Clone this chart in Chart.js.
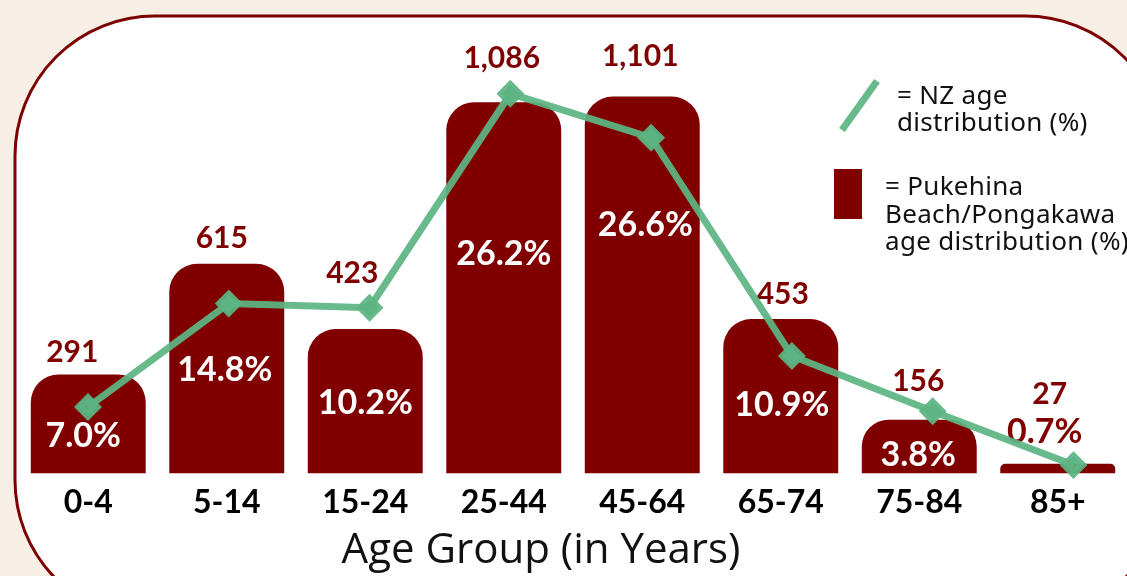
<!DOCTYPE html>
<html>
<head>
<meta charset="utf-8">
<script src="https://cdn.jsdelivr.net/npm/chart.js@4"></script>
<style>
  body { margin: 0; background: #f7efe6; }
  #wrap { width: 1127px; height: 576px; }
</style>
</head>
<body>
<div id="wrap"><canvas id="ageChart" width="1127" height="576"></canvas></div>
<script>
const ageGroups = ['0-4', '5-14', '15-24', '25-44', '45-64', '65-74', '75-84', '85+'];
const localCounts = [291, 615, 423, 1086, 1101, 453, 156, 27];
const localShare = [7.0, 14.8, 10.2, 26.2, 26.6, 10.9, 3.8, 0.7];
const nzShare = [4.7, 12.0, 11.7, 26.8, 23.7, 8.3, 4.4, 0.6];
const xTitle = 'Age Group (in Years)';

const darkRed = '#800000';
const green = 'rgba(92, 181, 131, 0.93)';

const age_chart = document.getElementById('ageChart');

// cream page + rounded white card
const framePlugin = {
  id: 'frame',
  beforeDraw(chart) {
    const ctx = chart.ctx;
    ctx.save();
    ctx.fillStyle = '#f7efe6';
    ctx.fillRect(0, 0, chart.width, chart.height);
    ctx.beginPath();
    ctx.roundRect(15, 16, 1150, 604, 140);
    ctx.fillStyle = '#ffffff';
    ctx.fill();
    ctx.lineWidth = 3;
    ctx.strokeStyle = '#7d0000';
    ctx.stroke();
    ctx.restore();
  }
};

// counts above bars, shares inside bars (offsets from bar top)
const countDx = [-16, -5, -13, -2, -2, 2, -1, -8];
const countDy = [-22, -25, -56, -44, -40, -25, -38, -69];
const shareDx = [-5, -2, 0, 0, 3, 1, -1, -13];
const shareDy = [62, 106, 74, 152, 128, 86, 35, -32];

const labelPlugin = {
  id: 'barLabels',
  afterDatasetDraw(chart, args) {
    if (args.index !== 0) return;
    const ctx = chart.ctx;
    ctx.save();
    ctx.textAlign = 'center';
    ctx.textBaseline = 'middle';
    args.meta.data.forEach((bar, i) => {
      ctx.font = 'bold 30px Lato';
      ctx.fillStyle = darkRed;
      ctx.fillText(localCounts[i].toLocaleString('en-US'), bar.x + countDx[i], bar.y + countDy[i]);
      ctx.font = 'bold 34px Lato';
      ctx.fillStyle = shareDy[i] < 0 ? darkRed : '#ffffff';
      ctx.fillText(localShare[i].toFixed(1) + '%', bar.x + shareDx[i], bar.y + shareDy[i]);
    });
    ctx.restore();
  }
};

// legend on the right and the axis title (sits left of the plot centre)
const legendPlugin = {
  id: 'sideLegend',
  afterDraw(chart) {
    const ctx = chart.ctx;
    ctx.save();
    ctx.strokeStyle = green;
    ctx.lineWidth = 7;
    ctx.beginPath();
    ctx.moveTo(842, 130);
    ctx.lineTo(877, 81);
    ctx.stroke();
    ctx.fillStyle = darkRed;
    ctx.fillRect(834, 169, 28, 50);
    ctx.fillStyle = '#111111';
    ctx.font = '26px "Noto Sans"';
    ctx.letterSpacing = '0.3px';
    ctx.textBaseline = 'middle';
    ctx.textAlign = 'left';
    ctx.fillText('= NZ age', 897, 97);
    ctx.fillText('distribution (%)', 897, 124);
    ctx.fillText('= Pukehina', 885, 188);
    ctx.fillText('Beach/Pongakawa', 885, 216);
    ctx.fillText('age distribution (%)', 885, 243);

    ctx.letterSpacing = '0px';
    ctx.font = '42px "Open Sans"';
    ctx.textAlign = 'center';
    ctx.fillText(xTitle, 541, 551);
    ctx.restore();
  }
};

new Chart(age_chart, {
  type: 'bar',
  data: {
    labels: ageGroups,
    datasets: [
      {
        type: 'bar',
        label: 'Pukehina Beach/Pongakawa age distribution (%)',
        data: localShare,
        backgroundColor: darkRed,
        borderRadius: { topLeft: 28, topRight: 28 },
        borderSkipped: 'bottom',
        barPercentage: 0.83,
        categoryPercentage: 1.0,
        grouped: false,
        order: 1
      },
      {
        type: 'line',
        label: 'NZ age distribution (%)',
        data: nzShare.map((v, i) => ({ x: i, y: v })),
        xAxisID: 'xLine',
        borderColor: green,
        backgroundColor: green,
        borderWidth: 7,
        pointStyle: 'rectRot',
        pointRadius: 9,
        pointHoverRadius: 9,
        tension: 0,
        clip: false,
        order: 0
      }
    ]
  },
  options: {
    responsive: false,
    animation: false,
    layout: { autoPadding: false, padding: { left: 19, right: 0, top: 20, bottom: 44 } },
    plugins: {
      legend: { display: false },
      tooltip: { enabled: false }
    },
    scales: {
      x: {
        grid: { display: false, drawTicks: false },
        border: { display: false },
        ticks: {
          color: '#000000',
          padding: 10,
          font: { family: 'Lato', size: 32, weight: 'bold' }
        }
      },
      xLine: {
        type: 'linear',
        display: false,
        offset: false,
        min: -0.49,
        max: 7.38
      },
      y: {
        display: false,
        min: 0,
        max: 32
      }
    }
  },
  plugins: [framePlugin, labelPlugin, legendPlugin]
});
</script>
</body>
</html>
